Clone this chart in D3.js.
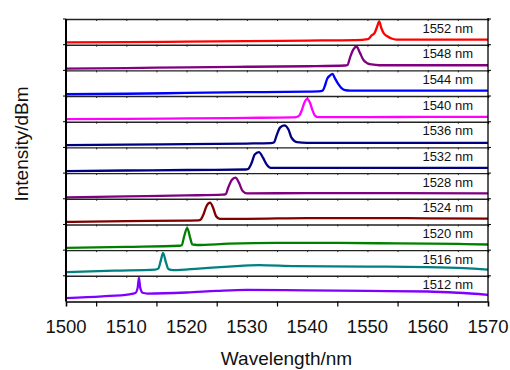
<!DOCTYPE html>
<html>
<head>
<meta charset="utf-8">
<script src="https://cdn.jsdelivr.net/npm/d3@7"></script>
<style>
  body { margin: 0; background: #fff; }
  text { font-family: "Liberation Sans", Arial, sans-serif; }
</style>
</head>
<body>
<div id="chart"></div>
<script>
// laser lines, top panel first
const laserLines = [1552, 1548, 1544, 1540, 1536, 1532, 1528, 1524, 1520, 1516, 1512];

// spectra: [wavelength nm, relative level 0-10 inside its panel]
const s1552 = [[1500,0.9],[1510,1.0],[1520,1.2],[1530,1.4],[1540,1.6],[1548,1.8],[1550.1,2.2],[1550.7,3.6],[1551.2,4.6],[1551.6,7.0],[1551.96,9.1],[1552.3,6.5],[1552.75,4.3],[1553.3,3.3],[1554.0,2.4],[1554.8,2.0],[1560,2.0],[1570,2.0]];
const s1548 = [[1500,0.7],[1510,0.9],[1520,1.2],[1530,1.4],[1540,1.6],[1546.3,1.9],[1546.7,2.1],[1547.1,4.9],[1547.65,8.1],[1548.2,9.2],[1548.76,6.8],[1549.3,4.2],[1549.9,2.9],[1550.7,2.3],[1552,2.0],[1560,2.0],[1570,2.0]];
const s1544 = [[1500,0.7],[1510,0.9],[1520,1.2],[1530,1.5],[1540,1.7],[1542.3,1.9],[1542.6,2.2],[1542.95,4.0],[1543.3,6.6],[1543.8,8.0],[1544.2,8.6],[1544.6,7.0],[1545.15,4.7],[1545.7,3.1],[1546.3,2.3],[1547.1,2.1],[1555,2.1],[1570,2.1]];
const s1540 = [[1500,1.0],[1510,1.1],[1520,1.3],[1530,1.5],[1537.5,1.7],[1538.2,1.8],[1538.7,2.4],[1539.1,4.4],[1539.5,7.2],[1540.0,8.9],[1540.5,7.2],[1540.9,4.4],[1541.3,2.4],[1541.85,1.8],[1550,1.8],[1560,1.9],[1570,1.9]];
const s1536 = [[1500,0.9],[1510,1.1],[1520,1.3],[1530,1.5],[1534,1.7],[1534.5,1.9],[1534.9,4.4],[1535.5,7.7],[1536.2,8.6],[1536.9,7.0],[1537.4,3.8],[1538.3,2.1],[1540,1.8],[1555,1.8],[1570,1.8]];
const s1532 = [[1500,0.8],[1510,1.0],[1520,1.2],[1529.8,1.4],[1530.2,1.6],[1530.8,4.0],[1531.3,7.2],[1532.0,8.2],[1532.7,5.9],[1533.3,3.3],[1533.95,2.0],[1540,2.0],[1555,2.0],[1570,2.0]];
const s1528 = [[1500,0.5],[1510,0.9],[1520,1.3],[1526,1.6],[1526.5,1.8],[1526.9,4.3],[1527.5,7.3],[1528.1,8.2],[1528.7,6.2],[1529.3,3.0],[1530.0,2.1],[1540,2.2],[1555,2.2],[1570,2.1]];
const s1524 = [[1500,1.0],[1510,1.3],[1520,1.5],[1522,1.6],[1522.3,1.8],[1522.8,3.9],[1523.3,7.1],[1523.9,8.5],[1524.4,6.5],[1524.9,3.2],[1525.5,2.2],[1530,2.2],[1540,2.5],[1550,2.5],[1560,2.4],[1570,2.3]];
const s1520 = [[1500,0.9],[1510,1.3],[1518.8,1.7],[1519.2,1.9],[1519.6,5.4],[1520.1,8.7],[1520.6,4.8],[1520.95,2.2],[1521.7,2.0],[1527,2.5],[1535,2.8],[1545,2.8],[1555,2.6],[1565,2.4],[1570,2.2]];
const s1516 = [[1500,1.4],[1508,2.0],[1514.8,2.4],[1515.3,2.8],[1515.7,5.7],[1516.1,8.9],[1516.6,5.0],[1517.0,2.6],[1517.8,2.2],[1522,2.8],[1527,3.6],[1532,4.2],[1538,3.8],[1550,3.6],[1560,3.4],[1566,3.0],[1570,2.4]];
const s1512 = [[1500,1.3],[1506,2.0],[1510.5,2.8],[1511.5,3.3],[1511.9,5.5],[1512.1,9.3],[1512.3,5.5],[1512.7,3.4],[1513.5,3.1],[1520,3.5],[1525,4.1],[1530,4.5],[1540,4.3],[1550,4.1],[1560,3.9],[1565,3.4],[1570,2.6]];

const series = [s1552, s1548, s1544, s1540, s1536, s1532, s1528, s1524, s1520, s1516, s1512];
const lineColors = ["#ff0000", "#800080", "#0000ff", "#ff00ff", "#000080", "#000080",
                    "#800080", "#800000", "#008000", "#008080", "#8000ff"];

const xTicks = [1500, 1510, 1520, 1530, 1540, 1550, 1560, 1570];
const xMinorTicks = [1505, 1515, 1525, 1535, 1545, 1555, 1565];

var margin = { top: 19, right: 22, bottom: 68.5, left: 66 },
    width = 510 - margin.left - margin.right,
    height = 370 - margin.top - margin.bottom;

var x = d3.scaleLinear().domain([1500, 1570]).range([0, width]);
var panel = d3.scaleBand().domain(laserLines).range([0, height]);
var y = d3.scaleLinear().domain([0, 10]).range([panel.bandwidth(), 0]);

var line = d3.line()
    .curve(d3.curveMonotoneX)
    .x(function (d) { return x(d[0]); })
    .y(function (d) { return y(d[1]); });

var svg = d3.select("#chart").append("svg")
    .attr("width", 510)
    .attr("height", 370)
    .append("g")
    .attr("transform", "translate(" + margin.left + "," + margin.top + ")");

// panels
var panels = svg.selectAll(".panel")
    .data(laserLines)
    .enter().append("g")
    .attr("class", "panel")
    .attr("transform", function (d) { return "translate(0," + panel(d) + ")"; });

panels.append("path")
    .attr("fill", "none")
    .attr("stroke", function (d, i) { return lineColors[i]; })
    .attr("stroke-width", 2.3)
    .attr("stroke-linejoin", "round")
    .attr("d", function (d, i) { return line(series[i]); });

panels.append("text")
    .attr("x", width - 15)
    .attr("y", 13.5)
    .attr("text-anchor", "end")
    .attr("font-size", 13)
    .attr("fill", "#111")
    .text(function (d) { return d + " nm"; });

// separators between panels, with small ticks each side
var seps = d3.range(0, laserLines.length).map(function (i) { return i * panel.bandwidth(); });

seps.forEach(function (sy) {
    var gUp = svg.append("g").attr("transform", "translate(0," + sy + ")");
    gUp.call(d3.axisTop(x).tickValues(xTicks.concat(xMinorTicks)).tickSize(2).tickFormat(""));
    gUp.call(d3.axisBottom(x).tickValues(xTicks.concat(xMinorTicks)).tickSize(2).tickFormat(""));
    gUp.selectAll("path").attr("stroke", "#222").attr("stroke-width", 1.4);
    gUp.selectAll("line").attr("stroke", "#222");
    // left and right little ticks
    gUp.append("line").attr("x1", -3).attr("x2", 0).attr("y1", 0).attr("y2", 0).attr("stroke", "#000");
    gUp.append("line").attr("x1", width).attr("x2", width + 3).attr("y1", 0).attr("y2", 0).attr("stroke", "#000");
});

// frame sides
svg.append("line")
    .attr("x1", 0).attr("x2", 0).attr("y1", 0).attr("y2", height)
    .attr("stroke", "#000").attr("stroke-width", 2);
svg.append("line")
    .attr("x1", width).attr("x2", width).attr("y1", -1).attr("y2", height)
    .attr("stroke", "#000").attr("stroke-width", 1.3);

// bottom axis
var xAxis = svg.append("g")
    .attr("transform", "translate(0," + height + ")")
    .call(d3.axisBottom(x).tickValues(xTicks).tickSize(7).tickFormat(""));
xAxis.call(d3.axisBottom(x).tickValues(xMinorTicks).tickSize(5).tickFormat(""));
xAxis.selectAll("path").attr("stroke", "#000").attr("stroke-width", 1.6);
xAxis.selectAll("line").attr("stroke", "#000").attr("stroke-width", 1.2);

svg.append("g")
    .selectAll("text")
    .data(xTicks)
    .enter().append("text")
    .attr("x", function (d) { return x(d); })
    .attr("y", height + 31.5)
    .attr("text-anchor", "middle")
    .attr("font-size", 18.5)
    .attr("fill", "#111")
    .text(function (d) { return d; });

// axis titles
svg.append("text")
    .attr("x", 220.5)
    .attr("y", 346)
    .attr("text-anchor", "middle")
    .attr("font-size", 19)
    .attr("fill", "#111")
    .text("Wavelength/nm");

svg.append("text")
    .attr("transform", "translate(-38,125) rotate(-90)")
    .attr("text-anchor", "middle")
    .attr("font-size", 19)
    .attr("fill", "#111")
    .text("Intensity/dBm");
</script>
</body>
</html>
